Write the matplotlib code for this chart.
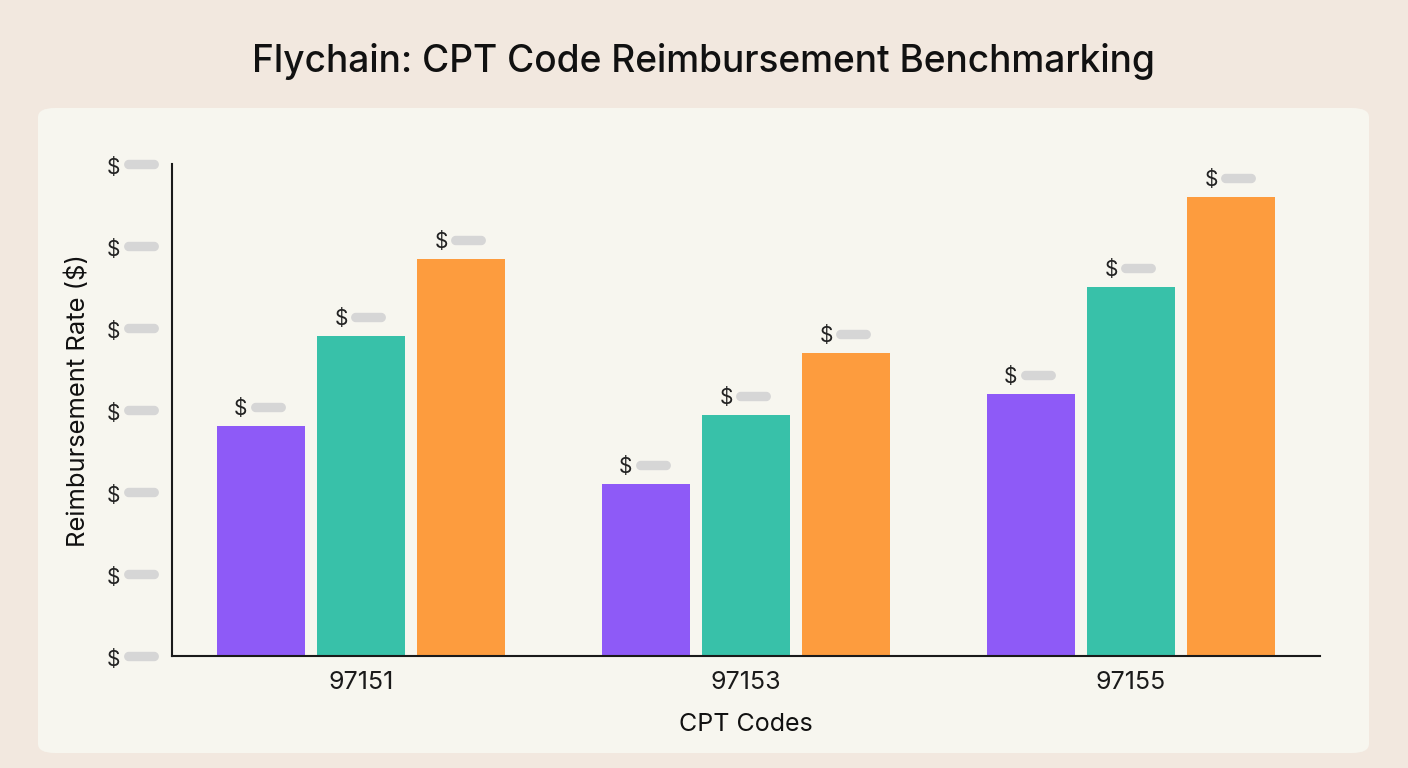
import numpy as np
import matplotlib.pyplot as plt
from matplotlib.path import Path
from matplotlib.patches import FancyBboxPatch
from matplotlib.transforms import ScaledTranslation

plt.rcParams["font.family"] = ["Inter", "DejaVu Sans"]

# data (values are redacted in the source; heights)
cpt_codes = ["97151", "97153", "97155"]
series_names = ["Rate A", "Rate B", "Rate C"]
rate_a = [140, 105, 160]
rate_b = [195, 147, 225]
rate_c = [242, 185, 280]
y_ticks = [0, 50, 100, 150, 200, 250, 300]

colors = ["#8E5AF7", "#38C1A9", "#FD9C3E"]
outer_bg = "#F2E8DF"
panel_bg = "#F7F6EF"
pill_color = "#D6D6D6"


def pill_marker():
    """Rounded horizontal 'redacted value' pill used as a marker."""
    r = 0.24
    t = np.linspace(-np.pi / 2, np.pi / 2, 16)
    right = np.column_stack([1 - r + r * np.cos(t), r * np.sin(t)])
    left = np.column_stack([-1 + r - r * np.cos(t), -r * np.sin(t)])
    verts = np.vstack([right, left, right[:1]])
    return Path(verts, closed=True)


PILL = pill_marker()
PILL_SIZE = 24  # points, full width of pill


def main():
    fig = plt.figure(figsize=(14.08, 7.68), dpi=100, facecolor=outer_bg)

    # rounded inner panel, behind the axes
    panel = FancyBboxPatch(
        (38 / 1408, 1 - 753 / 768), 1331 / 1408, 645 / 768,
        boxstyle="round,pad=0,rounding_size=0.012",
        transform=fig.transFigure, facecolor=panel_bg, edgecolor="none",
        zorder=-1,
    )
    fig.patches.append(panel)

    fig.text(0.5, 1 - 62 / 768, "Flychain: CPT Code Reimbursement Benchmarking",
             ha="center", va="center", fontsize=26.7, fontweight="medium", color="#111111")

    ax = fig.add_axes([172 / 1408, 1 - 656 / 768, 1148 / 1408, 492 / 768])
    ax.set_facecolor("none")
    ax.set_zorder(1)

    x = np.arange(len(cpt_codes))
    width = 0.2286
    step = 0.26
    dpi_trans = fig.dpi_scale_trans

    for i, (name, vals) in enumerate(zip(series_names, [rate_a, rate_b, rate_c])):
        pos = x + (i - 1) * step
        ax.bar(pos, vals, width=width, color=colors[i], label=name, zorder=2)
        for px, v in zip(pos, vals):
            # "$" + redacted pill above each bar
            ax.text(px, v, "$", transform=ax.transData + ScaledTranslation(-20 / 100, 17 / 100, dpi_trans),
                    ha="center", va="center", fontsize=15, color="#222222", clip_on=False)
            ax.plot([px], [v], marker=PILL, markersize=PILL_SIZE, color=pill_color,
                    linestyle="none", clip_on=False,
                    transform=ax.transData + ScaledTranslation(7 / 100, 19 / 100, dpi_trans))

    ax.set_xlim(-0.491, 2.491)
    ax.set_ylim(0, 300)
    ax.set_xticks(x)
    ax.set_xticklabels(cpt_codes, fontsize=18, color="#1a1a1a")
    ax.set_yticks(y_ticks)
    ax.set_yticklabels(["$"] * len(y_ticks), fontsize=15, color="#222222")
    ax.tick_params(axis="y", length=0, pad=37)
    ax.tick_params(axis="x", length=0, pad=11)
    for lbl in ax.get_yticklabels():
        lbl.set_transform(lbl.get_transform() + ScaledTranslation(0, -2 / 100, dpi_trans))

    # redacted pills next to each y tick label
    ytrans = ax.get_yaxis_transform() + ScaledTranslation(-31 / 100, 0, dpi_trans)
    ax.plot(np.zeros(len(y_ticks)), y_ticks, marker=PILL, markersize=PILL_SIZE,
            color=pill_color, linestyle="none", clip_on=False, transform=ytrans)

    for side in ["top", "right"]:
        ax.spines[side].set_visible(False)
    for side in ["left", "bottom"]:
        ax.spines[side].set_color("#1a1a1a")
        ax.spines[side].set_linewidth(1.5)

    ax.set_xlabel("CPT Codes", fontsize=18, color="#111111")
    ax.set_ylabel("Reimbursement Rate ($)", fontsize=18.4, color="#111111")
    ax.xaxis.set_label_coords(0.5, -57 / 492)
    ax.yaxis.set_label_coords(-82 / 1148, 255 / 492)

    fig.savefig("out.png", dpi=100, facecolor=outer_bg)
    plt.close(fig)


if __name__ == "__main__":
    main()
